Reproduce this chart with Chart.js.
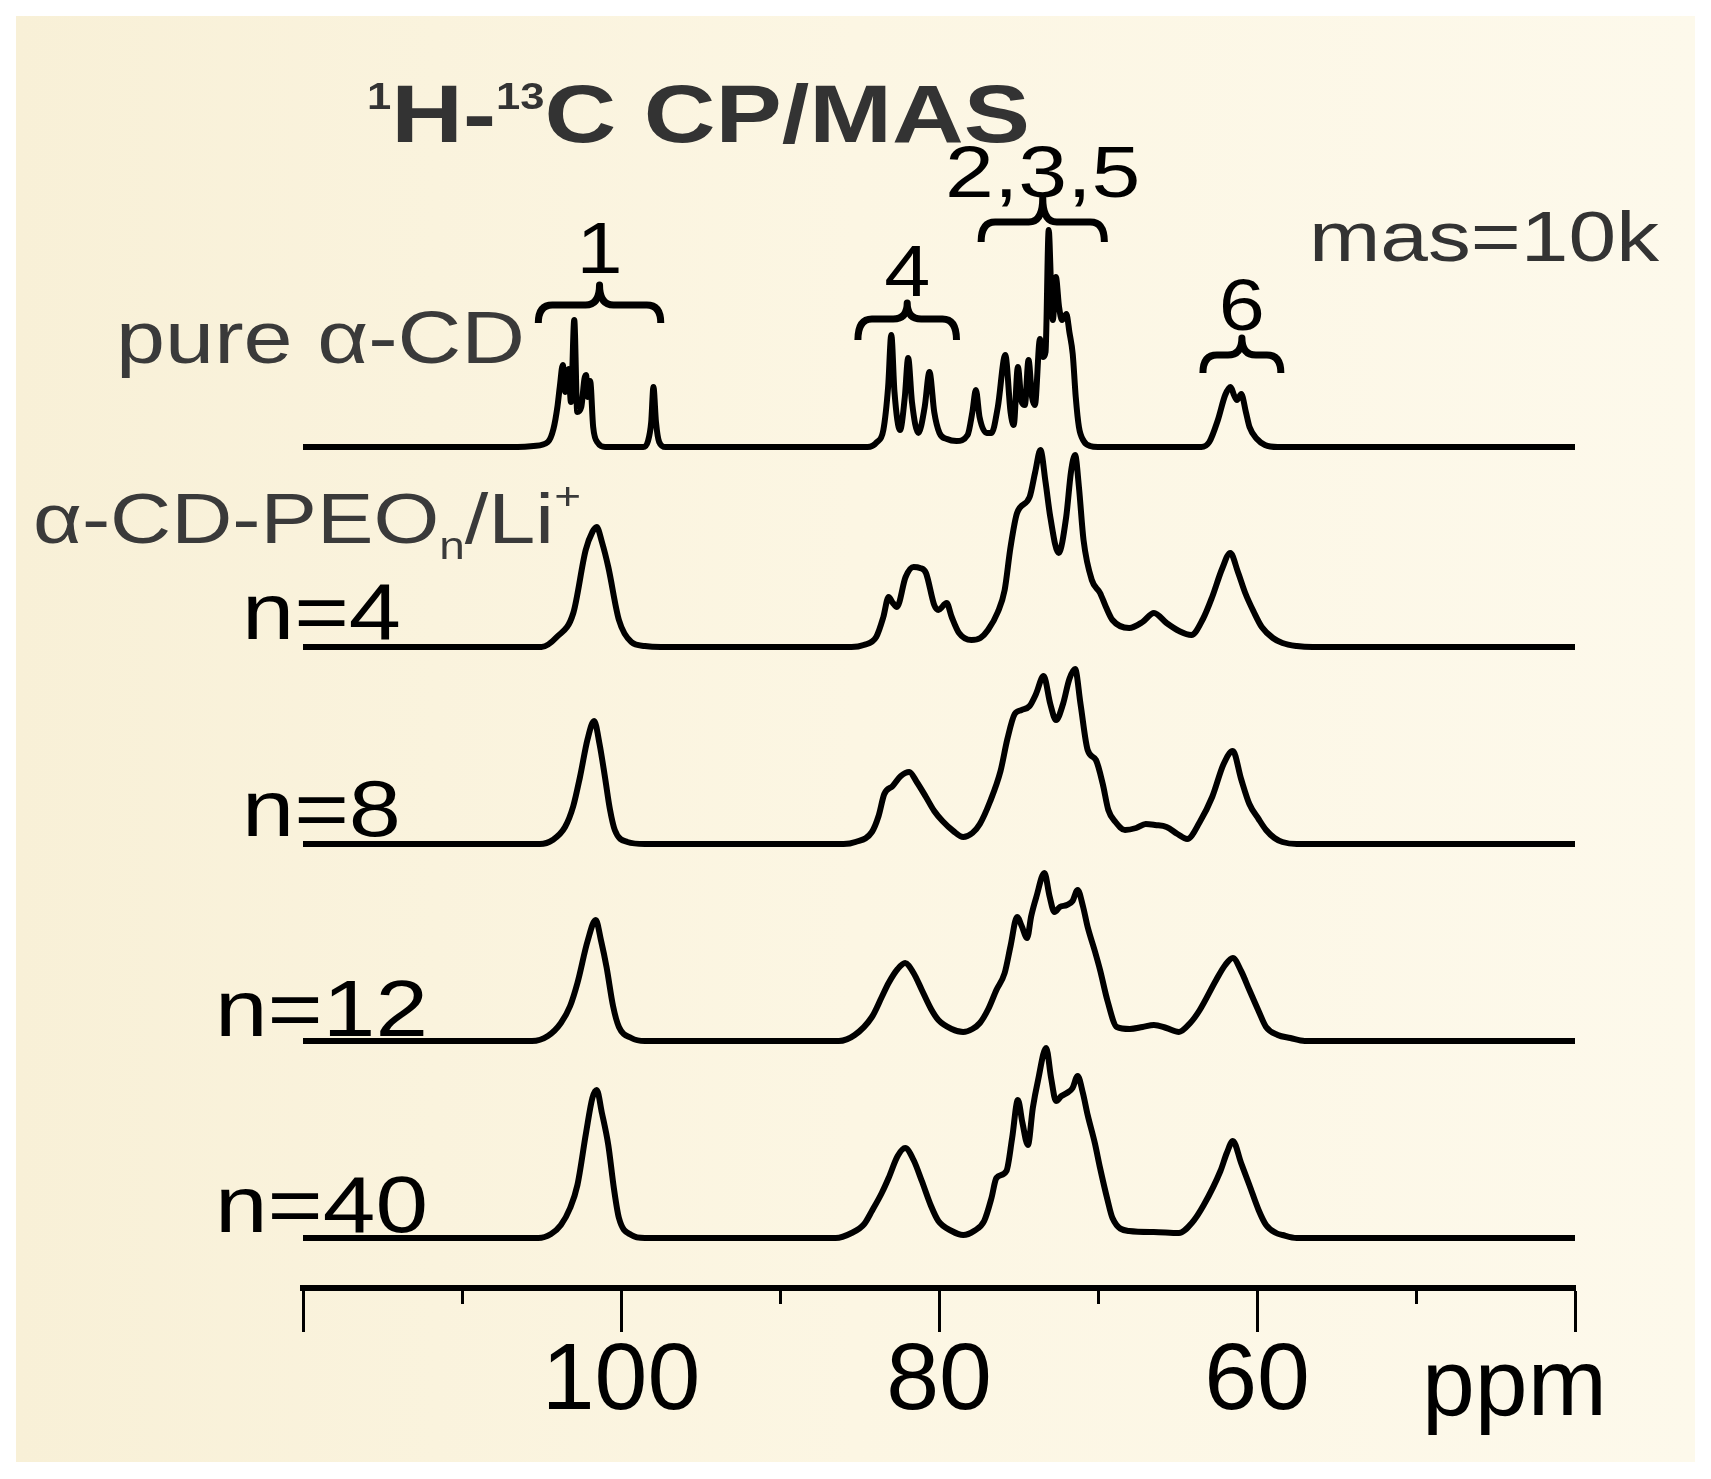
<!DOCTYPE html>
<html>
<head>
<meta charset="utf-8">
<script src="https://cdn.jsdelivr.net/npm/chart.js@4.4.1/dist/chart.umd.min.js"></script>
<style>
  html, body { margin: 0; padding: 0; background: #fff; }
  canvas { display: block; }
</style>
</head>
<body>
<canvas id="nmr" width="1711" height="1479"></canvas>
<script>
// 1H-13C CP/MAS spectra, [ppm, intensity]
const pureCD = [
  [120, 0], [106.5, 0], [105.5, 1], [104.6, 5], [104.25, 18], [104.0, 40], [103.85, 60], [103.66, 82],
  [103.5, 55], [103.3, 78], [103.15, 45], [102.94, 127], [102.75, 35], [102.5, 40], [102.3, 68],
  [102.2, 72], [102.08, 50], [101.94, 66], [101.75, 20], [101.45, 4], [101.0, 0], [98.6, 0],
  [98.3, 6], [98.1, 25], [97.96, 60], [97.8, 25], [97.6, 5], [97.2, 0],
  [84.5, 0], [83.9, 5], [83.5, 17], [83.2, 60], [83.0, 112], [82.8, 55], [82.45, 17], [82.15, 50],
  [81.94, 89], [81.7, 45], [81.3, 14], [80.9, 40], [80.6, 75], [80.3, 35], [79.97, 14], [79.5, 8],
  [78.9, 6], [78.2, 12], [77.9, 35], [77.68, 57], [77.45, 30], [77.0, 14], [76.7, 14], [76.3, 40],
  [75.83, 92], [75.5, 35], [75.3, 22], [75.04, 80], [74.8, 45], [74.6, 42], [74.37, 87], [74.15, 50],
  [73.97, 42], [73.65, 108], [73.45, 90], [73.3, 95], [73.1, 217], [72.95, 160], [72.84, 127],
  [72.65, 170], [72.45, 140], [72.26, 127], [71.99, 133], [71.8, 115], [71.59, 93], [71.4, 50],
  [71.2, 20], [70.9, 6], [70.5, 1], [70.0, 0],
  [63.5, 0], [63.0, 5], [62.46, 27], [62.0, 52], [61.66, 60], [61.45, 52], [61.26, 47], [60.99, 53],
  [60.7, 35], [60.47, 20], [60.0, 8], [59.5, 2], [58.7, 0], [40, 0]
];
const peo4 = [
  [120, 0], [105, 0], [104.04, 10], [103.0, 34], [102.22, 97], [101.8, 115], [101.53, 120], [101.2, 105],
  [100.8, 80], [100.13, 27], [99.35, 5], [98.5, 1], [97.5, 0],
  [85.5, 0], [84.74, 2], [83.95, 10], [83.5, 30], [83.17, 50], [82.9, 44], [82.65, 40], [82.1, 70],
  [81.6, 80], [81.2, 79], [80.82, 74], [80.3, 42], [80.04, 37], [79.52, 44], [79.2, 30], [78.74, 14],
  [77.96, 7], [77.4, 9], [76.92, 17], [76.3, 35], [75.87, 57], [75.5, 100], [75.09, 134], [74.3, 150],
  [73.95, 175], [73.62, 197], [73.3, 165], [73.0, 130], [72.48, 94], [72.0, 130], [71.7, 175],
  [71.44, 192], [71.2, 160], [70.91, 107], [70.39, 67], [69.87, 54], [69.5, 40], [69.09, 27],
  [68.04, 19], [67.2, 25], [66.48, 34], [65.69, 24], [64.9, 16], [64.13, 12], [63.4, 28], [62.82, 50],
  [62.2, 78], [61.68, 94], [61.2, 75], [60.74, 54], [60.2, 35], [59.7, 20], [59.0, 9], [58.4, 4],
  [57.5, 1], [56.5, 0], [40, 0]
];
const peo8 = [
  [120, 0], [105.1, 0], [104.3, 4], [103.52, 17], [103.0, 38], [102.58, 67], [102.1, 105], [101.69, 123],
  [101.35, 100], [101.01, 67], [100.7, 35], [100.39, 14], [99.6, 2], [98.5, 0],
  [86, 0], [85.26, 2], [84.22, 12], [83.8, 28], [83.44, 50], [82.91, 58], [82.4, 68], [81.87, 72],
  [81.4, 62], [80.82, 47], [80.3, 33], [79.78, 23], [79.1, 13], [78.48, 7], [77.9, 11], [77.43, 20],
  [76.8, 42], [76.13, 73], [75.7, 105], [75.24, 130], [74.8, 134], [74.3, 138], [73.9, 150],
  [73.42, 168], [73.0, 140], [72.64, 124], [72.2, 140], [71.8, 165], [71.44, 175], [71.1, 140],
  [70.65, 94], [70.13, 84], [69.7, 60], [69.35, 34], [68.9, 22], [68.3, 14], [67.6, 16], [67.0, 20],
  [66.4, 19], [65.69, 17], [65.0, 10], [64.39, 5], [63.6, 22], [62.82, 47], [62.1, 80], [61.52, 93],
  [61.0, 65], [60.48, 40], [59.9, 25], [59.43, 14], [58.9, 6], [58.4, 2], [57.5, 0], [40, 0]
];
const peo12 = [
  [120, 0], [105.6, 0], [104.6, 5], [103.78, 18], [103.2, 35], [102.74, 58], [102.1, 100], [101.59, 121],
  [101.25, 100], [100.91, 74], [100.5, 35], [100.13, 14], [99.35, 3], [98.5, 0],
  [86.3, 0], [85.3, 6], [84.22, 24], [83.6, 44], [83.17, 58], [82.6, 72], [82.13, 78], [81.6, 68],
  [81.08, 51], [80.5, 32], [80.04, 21], [79.2, 12], [78.48, 9], [77.9, 12], [77.43, 18], [76.9, 32],
  [76.39, 51], [75.87, 68], [75.5, 95], [75.09, 124], [74.8, 115], [74.46, 103], [74.2, 125],
  [73.88, 144], [73.37, 168], [73.05, 145], [72.74, 129], [72.4, 134], [71.96, 136], [71.6, 140],
  [71.28, 151], [70.95, 135], [70.65, 114], [70.2, 90], [69.87, 71], [69.4, 40], [68.82, 14],
  [68.0, 12], [67.2, 14], [66.48, 16], [65.7, 13], [64.91, 9], [64.2, 18], [63.6, 31], [62.57, 61],
  [62.0, 76], [61.52, 83], [61.0, 70], [60.48, 51], [59.9, 30], [59.43, 14], [58.7, 6], [57.9, 3],
  [57, 0], [40, 0]
];
const peo40 = [
  [120, 0], [105.2, 0], [104.4, 4], [103.78, 13], [103.2, 30], [102.74, 53], [102.2, 105], [101.8, 140],
  [101.53, 148], [101.2, 125], [100.8, 93], [100.45, 50], [100.13, 20], [99.35, 3], [98.5, 0],
  [86.5, 0], [85.5, 5], [84.7, 14], [84.22, 27], [83.6, 45], [83.17, 60], [82.6, 82], [82.13, 90],
  [81.6, 78], [81.08, 57], [80.5, 32], [80.04, 17], [79.2, 7], [78.48, 3], [77.8, 7], [77.16, 17],
  [76.7, 40], [76.39, 60], [75.76, 67], [75.4, 100], [75.04, 138], [74.75, 115], [74.41, 93],
  [74.1, 130], [73.78, 157], [73.26, 190], [72.95, 160], [72.64, 137], [72.3, 142], [71.96, 145],
  [71.6, 150], [71.28, 162], [70.95, 145], [70.65, 123], [70.2, 95], [69.87, 70], [69.4, 38],
  [69.09, 20], [68.04, 7], [66.5, 6], [64.91, 5], [64.1, 15], [63.35, 33], [62.3, 67], [61.9, 85],
  [61.52, 97], [61.0, 75], [60.48, 53], [59.9, 28], [59.43, 13], [58.8, 5], [58.4, 3], [57.5, 0], [40, 0]
];

const spectra = [pureCD, peo4, peo8, peo12, peo40];
const sampleNames = ['pure α-CD', 'n=4', 'n=8', 'n=12', 'n=40'];
const tickLabels = [100, 80, 60];

// carbon assignments: label and ppm span of the brace
const peakLabels = ['1', '4', '2,3,5', '6'];
const peakFrom = [105.2, 85.1, 77.35, 63.4];
const peakTo = [97.5, 78.9, 69.6, 58.5];

// layout (canvas px)
const stackOffsets = [841, 641, 444, 247, 50];   // baseline of each trace above the axis
const braceY = [[285, 305, 323], [303, 319, 340], [198, 222, 242], [338, 355, 373]]; // tip, bar, end
const labelBase = [273, 296, 197, 330];
const FONT = '"Liberation Sans", Arial, sans-serif';

const datasets = spectra.map((pts, i) => ({
  label: sampleNames[i],
  data: pts.map(p => ({ x: p[0], y: p[1] + stackOffsets[i] })),
  borderColor: '#000',
  borderWidth: 6,
  pointRadius: 0,
  fill: false,
  cubicInterpolationMode: 'monotone'
}));

// draw a row of text runs, stretched horizontally to a given width
function drawRuns(ctx, runs, left, baseline, width, color) {
  let natural = 0;
  runs.forEach(r => { ctx.font = r.font; natural += ctx.measureText(r.text).width; });
  const sx = width ? width / natural : 1;
  ctx.save();
  ctx.translate(left, baseline);
  ctx.scale(sx, 1);
  ctx.fillStyle = color;
  ctx.textAlign = 'left';
  ctx.textBaseline = 'alphabetic';
  let x = 0;
  runs.forEach(r => {
    ctx.font = r.font;
    ctx.fillText(r.text, x, r.dy || 0);
    x += ctx.measureText(r.text).width;
  });
  ctx.restore();
}

function drawCentered(ctx, text, font, cx, baseline, stretch, color) {
  ctx.font = font;
  const w = ctx.measureText(text).width * stretch;
  drawRuns(ctx, [{ text, font }], cx - w / 2, baseline, w, color);
}

function drawBrace(ctx, x0, x1, yTip, yBar, yEnd) {
  const xc = (x0 + x1) / 2;
  const r = 14;
  ctx.beginPath();
  ctx.moveTo(x0, yEnd);
  ctx.quadraticCurveTo(x0, yBar, x0 + r, yBar);
  ctx.lineTo(xc - r, yBar);
  ctx.quadraticCurveTo(xc, yBar, xc, yTip);
  ctx.quadraticCurveTo(xc, yBar, xc + r, yBar);
  ctx.lineTo(x1 - r, yBar);
  ctx.quadraticCurveTo(x1, yBar, x1, yEnd);
  ctx.stroke();
}

const backdrop = {
  id: 'backdrop',
  beforeDraw(chart) {
    const ctx = chart.ctx;
    ctx.save();
    ctx.fillStyle = '#ffffff';
    ctx.fillRect(0, 0, chart.width, chart.height);
    const g = ctx.createLinearGradient(16, 0, 1695, 0);
    g.addColorStop(0, '#f8f0d7');
    g.addColorStop(0.5, '#fcf6e3');
    g.addColorStop(1, '#fdf9eb');
    ctx.fillStyle = g;
    ctx.fillRect(16, 16, 1679, 1446);
    ctx.restore();
  }
};

const annotations = {
  id: 'annotations',
  afterDraw(chart) {
    const ctx = chart.ctx;
    const xs = chart.scales.x;
    ctx.save();

    // title
    const tb = 'bold 82px ' + FONT, ts = 'bold 36px ' + FONT;
    drawRuns(ctx, [
      { text: '1', font: ts, dy: -33 },
      { text: 'H-', font: tb },
      { text: '13', font: ts, dy: -33 },
      { text: 'C CP/MAS', font: tb }
    ], 367, 142, 663, '#333');

    // assignment braces and labels
    ctx.strokeStyle = '#000';
    ctx.lineWidth = 7;
    ctx.lineJoin = 'round';
    peakLabels.forEach((lab, i) => {
      const a = xs.getPixelForValue(peakFrom[i]);
      const b = xs.getPixelForValue(peakTo[i]);
      drawBrace(ctx, a, b, braceY[i][0], braceY[i][1], braceY[i][2]);
      drawCentered(ctx, lab, '72px ' + FONT, (a + b) / 2, labelBase[i], lab.length > 1 ? 1.22 : 1.15, '#000');
    });

    drawRuns(ctx, [{ text: 'mas=10k', font: '70px ' + FONT }], 1309, 261, 350, '#333');

    // sample labels
    drawRuns(ctx, [{ text: sampleNames[0], font: '74px ' + FONT }], 116, 363, 409, '#3a3a3a');
    drawRuns(ctx, [
      { text: 'α-CD-PEO', font: '70px ' + FONT },
      { text: 'n', font: '38px ' + FONT, dy: 16 },
      { text: '/Li', font: '70px ' + FONT },
      { text: '+', font: '38px ' + FONT, dy: -34 }
    ], 33, 543, 548, '#3a3a3a');
    const nLeft = [242, 242, 215, 215], nWidth = [159, 159, 213, 213], nBase = [639, 836, 1036, 1232];
    for (let i = 1; i < sampleNames.length; i++) {
      drawRuns(ctx, [{ text: sampleNames[i], font: '80px ' + FONT }], nLeft[i - 1], nBase[i - 1], nWidth[i - 1], '#000');
    }

    // axis unit
    ctx.font = '95px ' + FONT;
    ctx.fillStyle = '#000';
    ctx.textBaseline = 'alphabetic';
    ctx.fillText('ppm', 1422, 1415);
    ctx.restore();
  }
};

new Chart(document.getElementById('nmr'), {
  type: 'line',
  data: { datasets },
  options: {
    responsive: false,
    animation: false,
    devicePixelRatio: 1,
    layout: { padding: { top: 40, left: 303, right: 136, bottom: 0 } },
    plugins: { legend: { display: false }, tooltip: { enabled: false }, title: { display: false } },
    scales: {
      x: {
        type: 'linear',
        reverse: true,
        min: 40,
        max: 120,
        afterFit: s => { s.height = 191; },
        border: { display: true, color: '#000', width: 6 },
        grid: {
          drawOnChartArea: false,
          drawTicks: true,
          tickLength: 44,
          tickWidth: 3,
          tickColor: '#000',
          tickBorderDash: c => (c.tick && c.tick.value % 20 !== 0) ? [13, 200] : []
        },
        ticks: {
          stepSize: 10,
          autoSkip: false,
          maxRotation: 0,
          padding: 3,
          color: '#000',
          font: { family: FONT, size: 95, lineHeight: 1 },
          callback: v => tickLabels.includes(v) ? String(v) : ''
        }
      },
      y: { display: false, min: 0, max: 1248 }
    }
  },
  plugins: [backdrop, annotations]
});
</script>
</body>
</html>
